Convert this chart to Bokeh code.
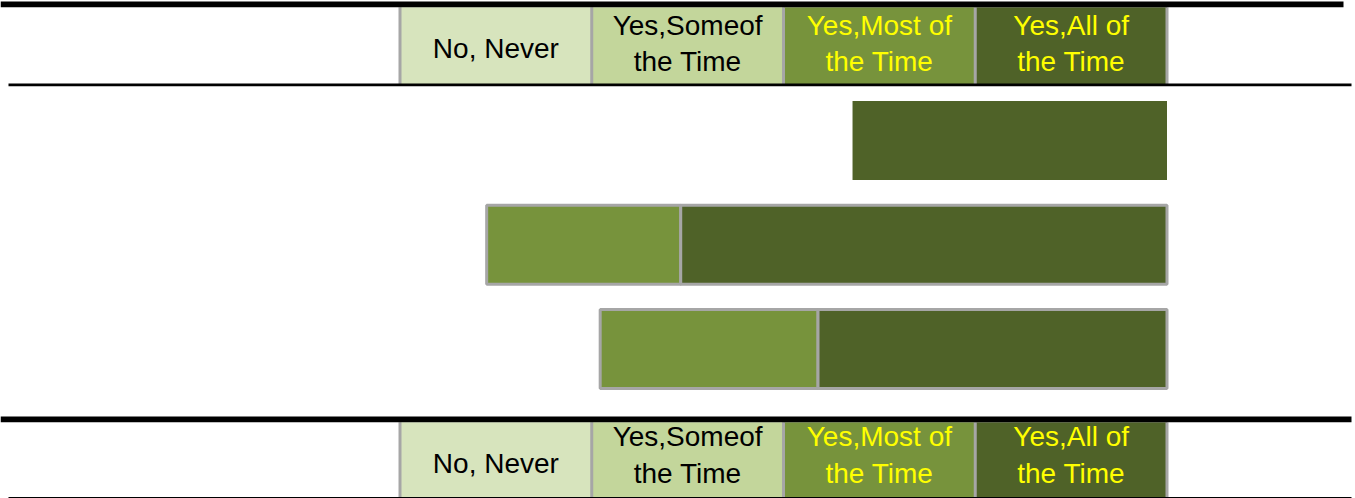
from bokeh.plotting import figure
from bokeh.models import Range1d, ColumnDataSource
from bokeh.core.properties import value
from bokeh.embed import file_html
from bokeh.resources import INLINE

# ---------------- data ----------------
rows = [1, 2, 3]
most_of_the_time = [0.0, 25.3, 28.4]
all_of_the_time = [41.0, 63.4, 45.5]
categories = ["No, Never", "Yes,Someof the Time", "Yes,Most of the Time", "Yes,All of the Time"]
category_lines = [["No, Never"], ["Yes,Someof", "the Time"], ["Yes,Most of", "the Time"], ["Yes,All of", "the Time"]]

# ---------------- styles ----------------
cat_colors = ["#d7e4bd", "#c3d69b", "#77933c", "#4f6228"]
cat_text_colors = ["#000000", "#000000", "#ffff00", "#ffff00"]
GRAY = "#a6a6a6"
FONT = "Liberation Sans"
FONT_SIZE = "28px"
TEXT_SHIFT = -10.5  # renderer baseline correction (px)

# ---------------- layout ----------------
W, H = 1355, 498
X0_PX, PX_PER_UNIT = 399.5, 7.67
ROW1_PX, ROW_PX = 140.0, 104.25


def dx(px):
    return (px - X0_PX) / PX_PER_UNIT


def dy(py):
    return 1 + (py - ROW1_PX) / ROW_PX


BAR_H = 79 / ROW_PX

p = figure(width=W, height=H, output_backend="svg", toolbar_location=None,
           x_range=Range1d(dx(0), dx(W)), y_range=Range1d(dy(H), dy(0)),
           min_border=0)
p.axis.visible = False
p.grid.visible = False
p.outline_line_color = None
p.background_fill_color = "white"
p.border_fill_color = "white"

# ---------------- bars ----------------
seg_y, seg_l, seg_r, seg_c, seg_line = [], [], [], [], []
for r, m, a in zip(rows, most_of_the_time, all_of_the_time):
    outline = GRAY if m > 0 else None
    if m > 0:
        seg_y.append(r); seg_l.append(100 - a - m); seg_r.append(100 - a)
        seg_c.append(cat_colors[2]); seg_line.append(outline)
    if a > 0:
        seg_y.append(r); seg_l.append(100 - a); seg_r.append(100)
        seg_c.append(cat_colors[3]); seg_line.append(outline)

src = ColumnDataSource(dict(y=seg_y, left=seg_l, right=seg_r, color=seg_c, line=seg_line))
p.hbar(y="y", left="left", right="right", height=BAR_H, fill_color="color",
       line_color="line", line_width=3, source=src)

# ---------------- header / footer legend rows ----------------
n = len(categories)
bounds = [i * 100 / n for i in range(n + 1)]


def legend_row(top_px, bottom_px, base_single, base_1, base_2):
    top, bottom = dy(top_px), dy(bottom_px)
    p.quad(left=bounds[:-1], right=bounds[1:], top=top, bottom=bottom,
           fill_color=cat_colors, line_color=None)
    p.segment(x0=bounds, x1=bounds, y0=top, y1=bottom, line_color=GRAY, line_width=3)
    tx, ty, tt, tc = [], [], [], []
    for i, lines in enumerate(category_lines):
        cx = (bounds[i] + bounds[i + 1]) / 2
        if len(lines) == 1:
            tx.append(cx); ty.append(dy(base_single + TEXT_SHIFT)); tt.append(lines[0]); tc.append(cat_text_colors[i])
        else:
            for ln, b in zip(lines, [base_1, base_2]):
                tx.append(cx); ty.append(dy(b + TEXT_SHIFT)); tt.append(ln); tc.append(cat_text_colors[i])
    p.text(x=tx, y=ty, text=tt, text_color=tc, text_font=value(FONT),
           text_font_size=FONT_SIZE, text_align="center", text_baseline="alphabetic")


legend_row(6.7, 83.5, 58.3, 35.0, 71.0)
legend_row(421.7, 496.8, 473.0, 446.7, 483.3)

# black rules
p.segment(x0=[dx(0), dx(8), dx(0), dx(8)], x1=[dx(1343), dx(1351), dx(1351), dx(1351)],
          y0=[dy(3.85), dy(84.4), dy(418.9), dy(497.3)],
          y1=[dy(3.85), dy(84.4), dy(418.9), dy(497.3)],
          line_color="black", line_width=[5.7, 2.8, 5.7, 1.6])

open("out.html", "w").write(file_html(p, INLINE))
